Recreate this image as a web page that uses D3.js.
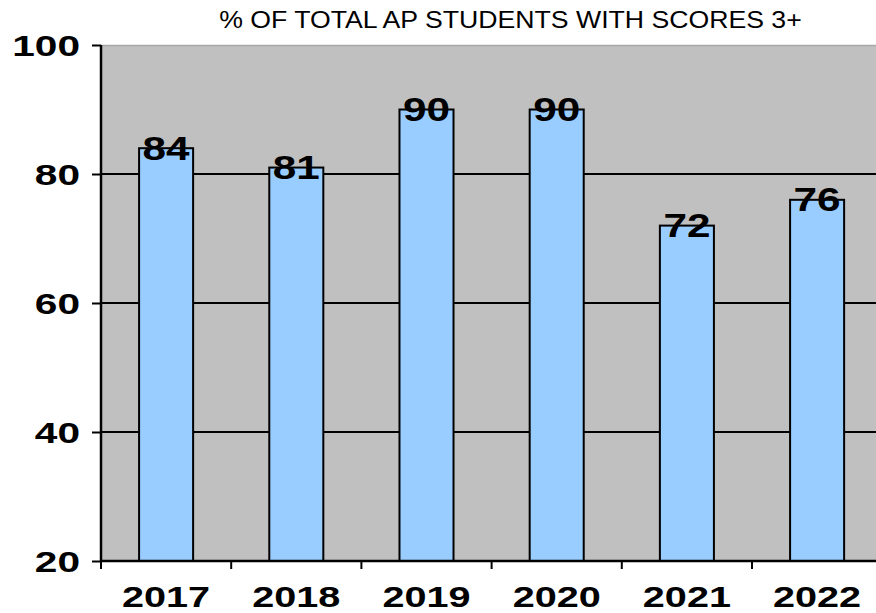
<!DOCTYPE html>
<html><head><meta charset="utf-8">
<script src="https://cdn.jsdelivr.net/npm/d3@7/dist/d3.min.js"></script>
<style>body{margin:0;background:#fff;} svg{display:block;}</style>
</head><body>
<script>
const categories = ["2017","2018","2019","2020","2021","2022"];
const values = [84, 81, 90, 90, 72, 76];
const yTicks = [20, 40, 60, 80, 100];
const title = "% OF TOTAL AP STUDENTS WITH SCORES 3+";

const W = 876, H = 613;
const mLeft = 101, mTop = 45, mBottom = 561, mRight = 882.2;
const FONT = "Liberation Sans, Arial, sans-serif";
const svg = d3.select("body").append("svg").attr("width", W).attr("height", H);

function stretch(sel, f) {
  sel.each(function () {
    const l = this.getComputedTextLength();
    d3.select(this).attr("textLength", l * f).attr("lengthAdjust", "spacingAndGlyphs");
  });
}

const x = d3.scaleBand().domain(categories).range([mLeft, mRight]).paddingInner(0.585).paddingOuter(0.2925);
const y = d3.scaleLinear().domain([20, 100]).range([mBottom, mTop]);

svg.append("rect").attr("x", mLeft).attr("y", mTop).attr("width", mRight - mLeft).attr("height", mBottom - mTop)
  .attr("fill", "#c0c0c0");
svg.append("line").attr("x1", mLeft).attr("x2", mRight).attr("y1", mTop + 0.5).attr("y2", mTop + 0.5)
  .attr("stroke", "#a8a8a8").attr("stroke-width", 1.5);

// gridlines
svg.append("g").selectAll("line").data(yTicks.filter(d => d > 20 && d < 100)).join("line")
  .attr("x1", mLeft).attr("x2", mRight).attr("y1", d => y(d)).attr("y2", d => y(d))
  .attr("stroke", "#000").attr("stroke-width", 2);

// bars
svg.append("g").selectAll("rect").data(values).join("rect")
  .attr("x", (d, i) => x(categories[i]))
  .attr("y", d => y(d))
  .attr("width", x.bandwidth())
  .attr("height", d => mBottom - y(d))
  .attr("fill", "#99ccff").attr("stroke", "#000").attr("stroke-width", 2);

// value labels
const vl = svg.append("g").selectAll("text").data(values).join("text")
  .attr("x", (d, i) => x(categories[i]) + x.bandwidth() / 2)
  .attr("y", d => y(d) + 11.5)
  .attr("text-anchor", "middle")
  .attr("font-family", FONT)
  .attr("font-weight", "bold").attr("font-size", 33)
  .text(d => d);
stretch(vl, 1.28);

// y axis
const yAxis = d3.axisLeft(y).tickValues(yTicks).tickSize(9).tickPadding(12);
const gy = svg.append("g").attr("transform", `translate(${mLeft},0)`).call(yAxis);
gy.select(".domain").attr("stroke-width", 2.5).attr("d", `M0,${mTop}V${mBottom}`);
gy.selectAll(".tick line").attr("stroke-width", 2);
const yl = gy.selectAll("text").attr("font-family", FONT)
  .attr("font-weight", "bold").attr("font-size", 29).attr("fill", "#000").attr("dy", "0.36em");
stretch(yl, 1.4);

// x axis
const xEdge = d3.scaleLinear().domain([0, categories.length]).range([mLeft, mRight]);
const gx = svg.append("g").attr("transform", `translate(0,${mBottom})`);
gx.append("line").attr("x1", mLeft).attr("x2", mRight).attr("stroke", "#000").attr("stroke-width", 2.5);
gx.selectAll(".tk").data(d3.range(categories.length)).join("line").attr("class", "tk")
  .attr("x1", d => xEdge(d)).attr("x2", d => xEdge(d)).attr("y1", 0).attr("y2", 8)
  .attr("stroke", "#000").attr("stroke-width", 2);
const xl = gx.selectAll("text").data(categories).join("text")
  .attr("x", d => x(d) + x.bandwidth() / 2).attr("y", 46)
  .attr("text-anchor", "middle")
  .attr("font-family", FONT)
  .attr("font-weight", "bold").attr("font-size", 30)
  .text(d => d);
stretch(xl, 1.32);

// title
const tt = svg.append("text").attr("x", 510.5).attr("y", 28).attr("text-anchor", "middle")
  .attr("font-family", FONT).attr("font-size", 24)
  .text(title);
stretch(tt, 1.11);
</script>
</body></html>
